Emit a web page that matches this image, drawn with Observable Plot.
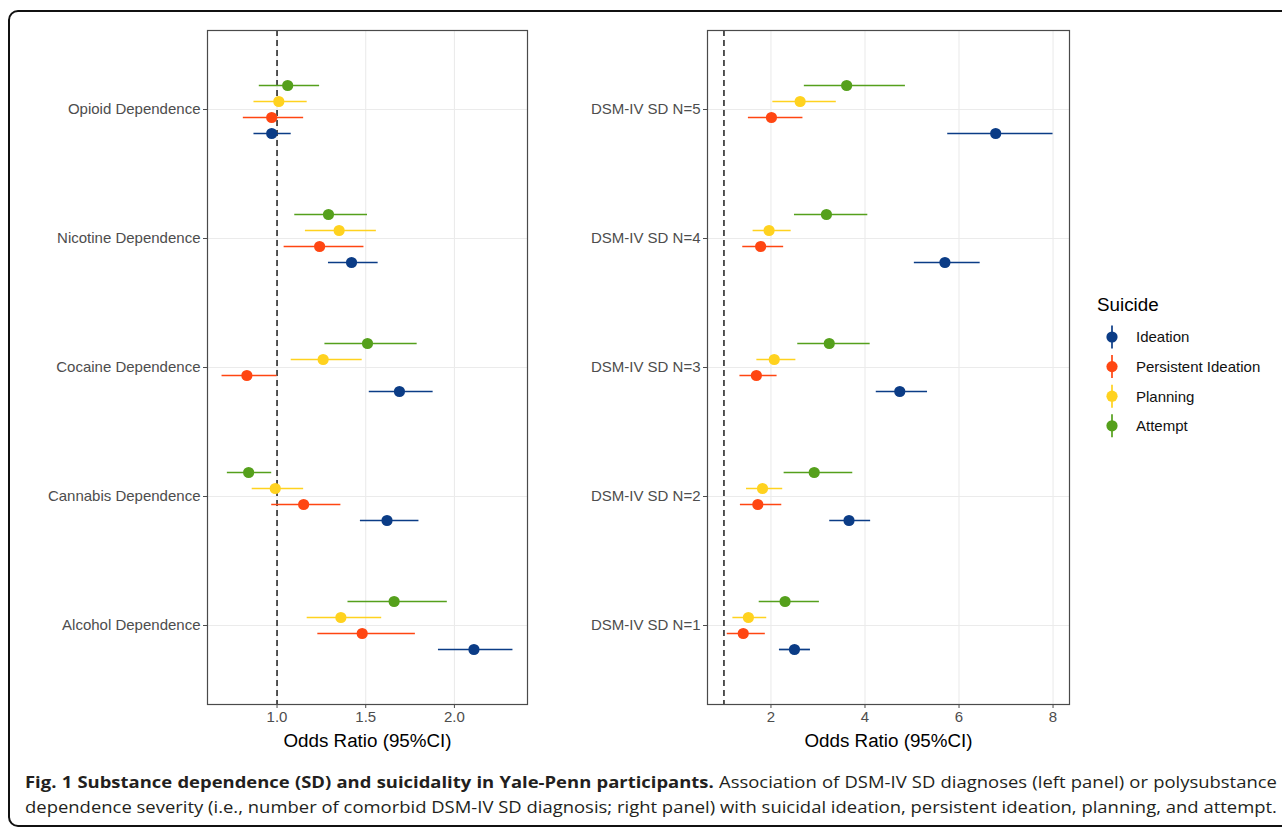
<!DOCTYPE html>
<html>
<head>
<meta charset="utf-8">
<script src="https://cdn.jsdelivr.net/npm/d3@7"></script>
<script src="https://cdn.jsdelivr.net/npm/@observablehq/plot@0.6"></script>
<style>
  html, body { margin: 0; padding: 0; background: #fff; }
  #page { position: relative; width: 1282px; height: 831px; overflow: hidden; background: #fff; }
  #frame { position: absolute; left: 8px; top: 10px; width: 1320px; height: 817px;
           border: 2.2px solid #111; border-radius: 10px; box-sizing: border-box; }
  .panel { position: absolute; top: 0; }
  #legend, #caption { position: absolute; left: 0; top: 0; }
</style>
</head>
<body>
<div id="page">
  <div id="frame"></div>
  <div id="left" class="panel" style="left:0px"></div>
  <div id="right" class="panel" style="left:560px"></div>
  <svg id="legend" width="1282" height="831"></svg>
  <svg id="caption" width="1282" height="831"></svg>
</div>
<script>
// ---------------- DATA ----------------
const series = ["Ideation", "Persistent Ideation", "Planning", "Attempt"];
const seriesColors = ["#0B3C86", "#FF4612", "#FFD21F", "#55A01C"];

const leftCategories = ["Opioid Dependence", "Nicotine Dependence", "Cocaine Dependence", "Cannabis Dependence", "Alcohol Dependence"];
// columns follow `series` order: Ideation, Persistent Ideation, Planning, Attempt
const leftOR = [
  [0.97, 0.97, 1.01, 1.06],
  [1.42, 1.24, 1.35, 1.29],
  [1.69, 0.83, 1.26, 1.51],
  [1.62, 1.15, 0.99, 0.84],
  [2.11, 1.48, 1.36, 1.66]
];
const leftLower = [
  [0.87, 0.81, 0.87, 0.90],
  [1.29, 1.04, 1.16, 1.10],
  [1.52, 0.69, 1.08, 1.27],
  [1.47, 0.97, 0.86, 0.72],
  [1.91, 1.23, 1.17, 1.40]
];
const leftUpper = [
  [1.08, 1.15, 1.17, 1.24],
  [1.57, 1.49, 1.56, 1.51],
  [1.88, 1.00, 1.48, 1.79],
  [1.80, 1.36, 1.15, 0.97],
  [2.33, 1.78, 1.59, 1.96]
];
const leftTicks = [1.0, 1.5, 2.0];

const rightCategories = ["DSM-IV SD N=5", "DSM-IV SD N=4", "DSM-IV SD N=3", "DSM-IV SD N=2", "DSM-IV SD N=1"];
const rightOR = [
  [6.78, 2.01, 2.62, 3.61],
  [5.70, 1.78, 1.96, 3.18],
  [4.74, 1.69, 2.07, 3.24],
  [3.66, 1.72, 1.82, 2.92],
  [2.50, 1.41, 1.52, 2.30]
];
const rightLower = [
  [5.76, 1.52, 2.04, 2.71],
  [5.05, 1.40, 1.62, 2.50],
  [4.24, 1.34, 1.70, 2.57],
  [3.25, 1.35, 1.48, 2.28],
  [2.18, 1.07, 1.19, 1.75]
];
const rightUpper = [
  [8.00, 2.68, 3.39, 4.86],
  [6.45, 2.27, 2.43, 4.06],
  [5.33, 2.13, 2.53, 4.11],
  [4.12, 2.23, 2.25, 3.74],
  [2.84, 1.88, 1.91, 3.03]
];
const rightTicks = [2, 4, 6, 8];

const axisTitle = "Odds Ratio (95%CI)";
const legendTitle = "Suicide";
const captionBold = "Fig. 1 Substance dependence (SD) and suicidality in Yale-Penn participants.";
const captionLine1 = "Association of DSM-IV SD diagnoses (left panel) or polysubstance";
const captionLine2 = "dependence severity (i.e., number of comorbid DSM-IV SD diagnosis; right panel) with suicidal ideation, persistent ideation, planning, and attempt.";

// ---------------- CHART ----------------
const FONT = "'Liberation Sans', Arial, Helvetica, sans-serif";
const DODGE = 16; // px between dodged series

function rows(cats, or, lo, hi) {
  const out = [];
  cats.forEach((c, i) => series.forEach((s, j) => out.push({cat: c, series: s, j, or: or[i][j], lo: lo[i][j], hi: hi[i][j]})));
  return out;
}

function panel({cats, or, lo, hi, ticks, fmt, width, marginLeft, marginRight}) {
  const data = rows(cats, or, lo, hi);
  const mn = Math.min(1, d3.min(data, d => d.lo));
  const mx = Math.max(1, d3.max(data, d => d.hi));
  const pad = (mx - mn) * 0.05;
  const height = 770;
  const marks = [
    Plot.gridX(ticks, {stroke: "#ebebeb", strokeOpacity: 1, strokeWidth: 1.1}),
    Plot.gridY({stroke: "#ebebeb", strokeOpacity: 1, strokeWidth: 1.1}),
    Plot.ruleX([1], {stroke: "#2b2b2b", strokeWidth: 1.6, strokeDasharray: "6,4"})
  ];
  series.forEach((s, j) => {
    const sub = data.filter(d => d.j === j);
    const dy = (1.5 - j) * DODGE;
    marks.push(Plot.ruleY(sub, {y: "cat", x1: "lo", x2: "hi", stroke: seriesColors[j], strokeWidth: 1.7, dy}));
    marks.push(Plot.dot(sub, {x: "or", y: "cat", r: 5.6, fill: seriesColors[j], stroke: "none", dy}));
  });
  marks.push(
    Plot.frame({stroke: "#4a4a4a", strokeWidth: 1.2}),
    Plot.axisX(ticks, {tickFormat: fmt, tickSize: 4, tickPadding: 3, color: "#4d4d4d", label: null, fontSize: 15}),
    Plot.axisY({tickSize: 4, tickPadding: 3, color: "#4d4d4d", label: null, fontSize: 15}),
    Plot.text([axisTitle], {text: d => d, frameAnchor: "bottom", dy: 42, fontSize: 18.8, fill: "#000"})
  );
  return Plot.plot({
    width, height, marginLeft, marginRight, marginTop: 30, marginBottom: height - 704,
    style: {fontFamily: FONT, fontSize: "15px", background: "transparent", overflow: "visible"},
    x: {domain: [mn - pad, mx + pad]},
    y: {type: "point", domain: cats, padding: 0.6},
    marks
  });
}

document.getElementById("left").appendChild(panel({
  cats: leftCategories, or: leftOR, lo: leftLower, hi: leftUpper,
  ticks: leftTicks, fmt: d3.format(".1f"), width: 545, marginLeft: 207, marginRight: 18
}));
document.getElementById("right").appendChild(panel({
  cats: rightCategories, or: rightOR, lo: rightLower, hi: rightUpper,
  ticks: rightTicks, fmt: d3.format("d"), width: 520, marginLeft: 147, marginRight: 11
}));

// ---------------- LEGEND ----------------
const lg = d3.select("#legend").style("font-family", FONT);
lg.append("text").attr("x", 1097).attr("y", 311).attr("font-size", 18.8).attr("fill", "#000").text(legendTitle);
series.forEach((s, j) => {
  const cy = 337 + j * 29.6;
  const g = lg.append("g");
  g.append("line").attr("x1", 1112).attr("x2", 1112).attr("y1", cy - 11.5).attr("y2", cy + 11.5)
    .attr("stroke", seriesColors[j]).attr("stroke-width", 1.7);
  g.append("circle").attr("cx", 1112).attr("cy", cy).attr("r", 5.6).attr("fill", seriesColors[j]);
  g.append("text").attr("x", 1136).attr("y", cy + 5.3).attr("font-size", 15).attr("fill", "#111").text(s);
});

// ---------------- CAPTION (justified, condensed) ----------------
const CAP_X = 25, CAP_W = 1252, CAP_FS = 16.5;
const cap = d3.select("#caption").style("font-family", "'Open Sans', 'Noto Sans', sans-serif");
// line 2: measure natural width to get the horizontal condensing factor
const l2 = cap.append("text").attr("font-size", CAP_FS).attr("fill", "#231f20").text(captionLine2);
const w2 = l2.node().getComputedTextLength();
const k = CAP_W / w2;
l2.attr("transform", `translate(${CAP_X},813) scale(${k},1)`);
// line 1: same condensing, justified through word spacing
const l1 = cap.append("text").attr("font-size", CAP_FS).attr("fill", "#231f20");
l1.append("tspan").attr("font-weight", 700).text(captionBold);
l1.append("tspan").text(" " + captionLine1);
const w1 = l1.node().getComputedTextLength();
const nSpaces = (captionBold + " " + captionLine1).split(" ").length - 1;
l1.attr("word-spacing", (CAP_W / k - w1) / nSpaces)
  .attr("transform", `translate(${CAP_X},788) scale(${k},1)`);
</script>
</body>
</html>
